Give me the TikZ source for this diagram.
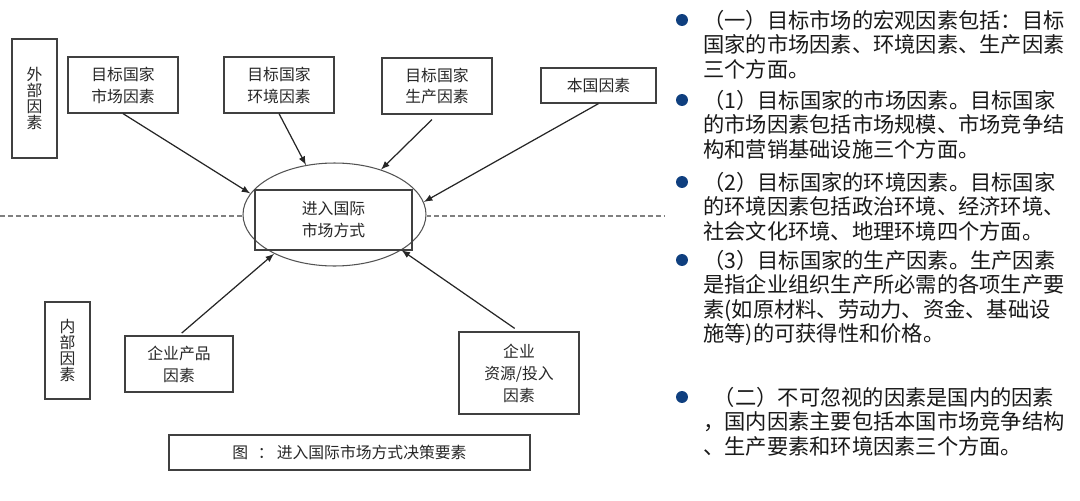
\documentclass[tikz,border=0pt]{standalone}
\usepackage{fontspec}
\newfontfamily\cjk{Noto Sans CJK SC}
\usetikzlibrary{shapes, arrows, positioning}
\definecolor{linegray}{HTML}{404040}
\definecolor{dotblue}{HTML}{0F3F7F}

\begin{document}
\begin{tikzpicture}[x=0.02cm, y=-0.02cm,
		fbox/.style={draw=linegray, line width=0.7pt, align=center, inner sep=0pt, text=black!85, font=\cjk\fontsize{9}{12.5}\selectfont},
		vbox/.style={fbox, font=\cjk\fontsize{9}{9.2}\selectfont},
		arr/.style={-latex, line width=0.7pt, draw=black!85},
		dline/.style={draw=gray, line width=0.6pt, dash pattern=on 2.8pt off 1.7pt},
		para/.style={anchor=base west, align=left, inner sep=0pt, text=black!90, font=\cjk\fontsize{12.1}{13.9}\selectfont}]
	\useasboundingbox (0,0) rectangle (1080,501);
	% 绘制外部因素
	\node[vbox, minimum width=0.9cm, minimum height=2.38cm] (wb) at (34.5,98.5) {外\\部\\因\\素};
	\node[fbox, minimum width=2.2cm, minimum height=1.12cm] (sc) at (123,85) {目标国家\\市场因素};
	\node[fbox, minimum width=2.2cm, minimum height=1.12cm] (hj) at (279,85) {目标国家\\环境因素};
	\node[fbox, minimum width=2.2cm, minimum height=1.12cm] (sx) at (437,86) {目标国家\\生产因素};
	\node[fbox, minimum width=2.3cm, minimum height=0.7cm] (bg) at (598.5,85.5) {本国因素};
	% 绘制中心
	\node[ellipse, draw=linegray!90, line width=0.6pt, minimum width=3.66cm, minimum height=2.06cm, inner sep=0pt] (ell) at (334.5,214.5) {};
	\node[fbox, minimum width=3.14cm, minimum height=1.2cm] (jr) at (333.5,220) {进入国际\\市场方式};
	% 分界虚线
	\coordinate (dl) at (0,216);
	\coordinate (dr) at (664,216);
	\draw[dline] (dl) -- (dl -| ell.west);
	\draw[dline] (dr -| ell.east) -- (dr);
	% 绘制内部因素
	\node[vbox, minimum width=0.9cm, minimum height=1.94cm] (nb) at (67.5,350.5) {内\\部\\因\\素};
	\node[fbox, minimum width=2.16cm, minimum height=1.12cm] (cp) at (179,364) {企业产品\\因素};
	\node[fbox, minimum width=2.4cm, minimum height=1.64cm] (zy) at (519,373) {企业\\资源/投入\\因素};
	\node[fbox, minimum width=7.22cm, minimum height=0.7cm] (cap) at (349.5,452.5) {图\hspace{0.6em}：\hspace{0.2em}进入国际市场方式决策要素};
	% 箭头
	\draw[arr] (sc.south) -- (ell.166);
	\draw[arr] (hj.south) -- (ell.120);
	\draw[arr, shorten <=4pt] (sx.south) -- (ell.44);
	\draw[arr] (bg.south) -- (ell.8);
	\draw[arr, shorten <=2pt] (cp.north) -- (ell.213);
	\draw[arr, shorten <=3pt] (zy.north) -- (ell.-28);
	% 右侧文字（base 锚点在末行基线）
	\foreach \y in {20,100,182,260,397} {
		\fill[dotblue] (682,\y) circle (3.4pt);
	}
	\node[para] (p1) at (703,77) {（一）目标市场的宏观因素包括：目标\\国家的市场因素、环境因素、生产因素\\三个方面。};
	\node[para] (p2) at (703,157) {（1）目标国家的市场因素。目标国家\\的市场因素包括市场规模、市场竞争结\\构和营销基础设施三个方面。};
	\node[para] (p3) at (703,239) {（2）目标国家的环境因素。目标国家\\的环境因素包括政治环境、经济环境、\\社会文化环境、地理环境四个方面。};
	\node[para] (p4) at (703,341.5) {（3）目标国家的生产因素。生产因素\\是指企业组织生产所必需的各项生产要\\素(如原材料、劳动力、资金、基础设\\施等)的可获得性和价格。};
	\node[para] (p5) at (703,454) {\hspace{0.5em}（二）不可忽视的因素是国内的因素\\，国内因素主要包括本国市场竞争结构\\、生产要素和环境因素三个方面。};
\end{tikzpicture}
\end{document}
